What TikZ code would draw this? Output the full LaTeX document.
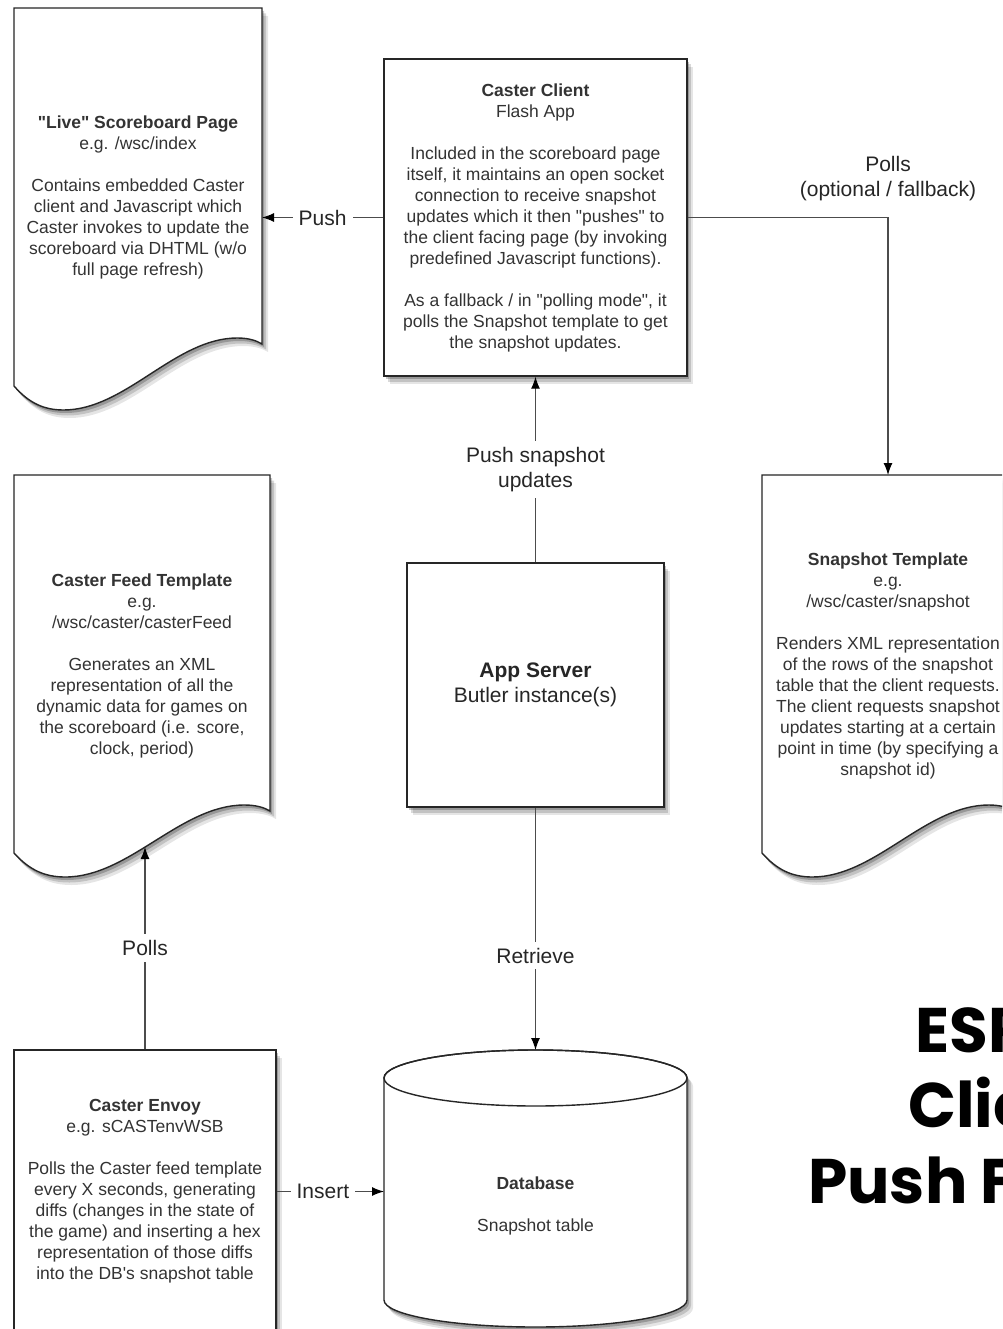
\documentclass[tikz,border=0pt]{standalone}
\usepackage{fontspec}
\setmainfont{Liberation Sans}[Ligatures=TeXOff]
\newfontfamily\titlefont{Poppins}
\usetikzlibrary{arrows.meta}

% A page with a wavy bottom edge: #1 = left x, #2 = top y, #3 = width
\newcommand\docsheet[3]{%
  \path[sheet] (#1,#2) -- ({#1+#3},#2) -- ({#1+#3},{#2+336})
    .. controls ({#1+0.98*#3},{#2+333}) and ({#1+0.95*#3},{#2+330}) .. ({#1+0.9*#3},{#2+330})
    .. controls ({#1+0.65*#3},{#2+330}) and ({#1+0.45*#3},{#2+402}) .. ({#1+0.2*#3},{#2+402})
    .. controls ({#1+0.12*#3},{#2+402}) and ({#1+0.06*#3},{#2+395}) .. (#1,{#2+378}) -- cycle;}

\tikzset{
  softshadow/.style={
    preaction={fill=black,opacity=.10,transform canvas={shift={(6pt,-8pt)}}},
    preaction={fill=black,opacity=.15,transform canvas={shift={(4pt,-5.5pt)}}},
    preaction={fill=black,opacity=.22,transform canvas={shift={(2pt,-3pt)}}}},
  sheet/.style={draw=black!85, line width=1.4pt, fill=white, softshadow},
  box/.style={sheet, rectangle, inner sep=0pt, body},
  body/.style={font=\fontsize{17.5}{21}\selectfont, text=black!80, align=center},
  big/.style={font=\fontsize{21}{25}\selectfont, text=black!85, align=center},
  conn/.style={draw=black!70, line width=1.2pt},
  arrowed/.style={-{Latex[length=12pt,width=9pt,color=black]}},
  lab/.style={big, fill=white, inner sep=6pt},
  headline/.style={font=\titlefont\bfseries\fontsize{63}{75}\selectfont, text=black, anchor=base west, inner sep=0pt}
}

\begin{document}
\begin{tikzpicture}[x=1pt, y=-1pt]
  \useasboundingbox (0,0) rectangle (1002,1329);
  \fill[white] (0,0) rectangle (1002,1329);
  \clip (0,0) rectangle (1002,1329);

  % document pages
  \docsheet{14}{8}{248}
  \docsheet{14}{475}{256}
  \docsheet{762}{475}{252}

  \node[body] (livetext) at (138,197) {\textbf{"Live" Scoreboard Page}\\ e.g. /wsc/index\\[21pt]
    Contains embedded Caster\\ client and Javascript which\\ Caster invokes to update the\\
    scoreboard via DHTML (w/o\\ full page refresh)};
  \node[body] (feedtext) at (142,666) {\textbf{Caster Feed Template}\\ e.g.\\ /wsc/caster/casterFeed\\[21pt]
    Generates an XML\\ representation of all the\\ dynamic data for games on\\
    the scoreboard (i.e. score,\\ clock, period)};
  \node[body] (snaptext) at (888,666) {\textbf{Snapshot Template}\\ e.g.\\ /wsc/caster/snapshot\\[21pt]
    Renders XML representation\\ of the rows of the snapshot\\ table that the client requests.\\
    The client requests snapshot\\ updates starting at a certain\\ point in time (by specifying a\\ snapshot id)};

  \coordinate (live-e) at (262,217.5);
  \coordinate (snap-n) at (888,475);
  \coordinate (feed-s) at (145,847);

  % boxes
  \node[box, minimum width=303pt, minimum height=317pt] (client) at (535.5,217.5)
    {\textbf{Caster Client}\\ Flash App\\[21pt]
     Included in the scoreboard page\\ itself, it maintains an open socket\\
     connection to receive snapshot\\ updates which it then "pushes" to\\
     the client facing page (by invoking\\ predefined Javascript functions).\\[21pt]
     As a fallback / in "polling mode", it\\ polls the Snapshot template to get\\ the snapshot updates.};
  \node[box, big, minimum width=257pt, minimum height=244pt] (server) at (535.5,685)
    {\textbf{App Server}\\ Butler instance(s)};
  \node[box, minimum width=262pt, minimum height=283pt] (envoy) at (145,1191.5)
    {\textbf{Caster Envoy}\\ e.g. sCASTenvWSB\\[21pt]
     Polls the Caster feed template\\ every X seconds, generating\\ diffs (changes in the state of\\
     the game) and inserting a hex\\ representation of those diffs\\ into the DB's snapshot table};

  % database cylinder
  \path[sheet] (384,1078) -- (384,1300)
    arc[start angle=180, end angle=360, x radius=151.5pt, y radius=27pt]
    -- (687,1078)
    arc[start angle=0, end angle=180, x radius=151.5pt, y radius=28pt] -- cycle;
  \draw[draw=black!85, line width=1.4pt] (535.5,1078) ellipse [x radius=151.5pt, y radius=28pt];
  \coordinate (db-n) at (535.5,1050);
  \coordinate (db-w) at (384,1191.5);
  \node[body] (dbtext) at (535.5,1205.5) {\textbf{Database}\\[21pt] Snapshot table};

  % connectors
  \draw[conn, arrowed] (client.west) -- node[lab] (lpush) {Push} (live-e);
  \draw[conn, arrowed] (client.east) -| node[big, pos=0.5, anchor=south, yshift=10pt, inner sep=6pt] (lpollsnap)
    {Polls\\ (optional / fallback)} (snap-n);
  \draw[conn, arrowed] (server.north) -- node[lab] (lpushsnap) {Push snapshot\\ updates} (client.south);
  \draw[conn, arrowed] (server.south) -- node[lab, pos=0.61] (lretrieve) {Retrieve} (db-n);
  \draw[conn, arrowed] (envoy.north) -- node[lab] (lpollfeed) {Polls} (feed-s);
  \draw[conn, arrowed] (envoy.east) -- node[lab, pos=0.43] (linsert) {Insert} (envoy.east -| db-w);

  % heading
  \node[headline] (head1) at (915,1052) {ESPN};
  \node[headline] (head2) at (908,1127) {Client};
  \node[headline] (head3) at (808,1203) {Push Flow};
\end{tikzpicture}
\end{document}
